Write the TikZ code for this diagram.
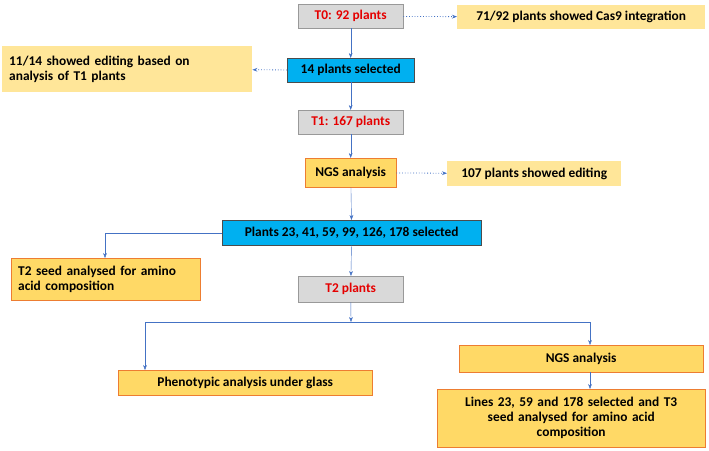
\documentclass[tikz,border=0pt]{standalone}
\usepackage{fontspec}
\setmainfont{Carlito}
\usetikzlibrary{arrows.meta}
\definecolor{gfill}{HTML}{D9D9D9}
\definecolor{lyel}{HTML}{FFE699}
\definecolor{oyel}{HTML}{FFD966}
\definecolor{obord}{HTML}{ED7D31}
\definecolor{bfill}{HTML}{00B0F0}
\definecolor{arr}{HTML}{4472C4}
\begin{document}
\begin{tikzpicture}[x=1pt,y=-1pt,font=\bfseries\fontsize{13.4}{15}\selectfont,
 box/.style={draw,minimum height=24pt,inner sep=2pt,anchor=north west},
 gray/.style={box,fill=gfill,draw=gray!80,text=red!90!black,minimum width=105pt},
 note/.style={box,fill=lyel,draw=none,align=left},
 blue/.style={box,fill=bfill,draw=black!70},
 org/.style={box,fill=oyel,draw=obord,align=left},
 ar/.style={draw=arr,-{Stealth[length=5pt]}},
 dt/.style={ar,dotted,thick}]
\useasboundingbox (0,0) rectangle (709,450);
\node[gray] (t0) at (298,4) {T0: 92 plants};
\node[note,minimum width=248pt] (n1) at (457,5) {71/92 plants showed Cas9 integration};
\node[blue,minimum width=127pt] (s14) at (287,58) {14 plants selected};
\node[note,minimum width=250pt,minimum height=46pt,text width=236pt,inner xsep=7pt] (n2) at (2,46) {11/14 showed editing based on\\analysis of T1 plants};
\node[gray] (t1) at (298,110) {T1: 167 plants};
\node[org,minimum width=91pt,minimum height=29pt,align=center] (ngs) at (305,158) {NGS analysis};
\node[note,minimum width=174pt,minimum height=25pt] (n3) at (447,161) {107 plants showed editing};
\node[blue,minimum width=259pt,minimum height=25pt] (pl) at (222,220) {Plants 23, 41, 59, 99, 126, 178 selected};
\node[org,minimum width=189pt,minimum height=42pt,text width=175pt,inner xsep=7pt] (sd) at (11,258) {T2 seed analysed for amino\\acid composition};
\node[gray,text=red!90!black,minimum height=26pt] (t2) at (298,276) {T2 plants};
\node[org,minimum width=244pt,minimum height=27pt,align=center] (ngs2) at (459,345) {NGS analysis};
\node[org,minimum width=254pt,minimum height=25pt] (ph) at (118,370) {Phenotypic analysis under glass};
\node[org,minimum width=268pt,minimum height=58pt,text width=262pt,align=center] (ln) at (437,389) {Lines 23, 59 and 178 selected and T3\\seed analysed for amino acid\\composition};
\coordinate (j) at (351,322);
\draw[dt] (t0) -- (n1);
\draw[dt] (s14) -- (n2);
\draw[dt] (ngs) -- (n3);
\draw[ar] (t0) -- (s14);
\draw[ar] (s14) -- (t1);
\draw[ar] (t1) -- (ngs);
\draw[ar] (ngs) -- (pl);
\draw[ar] (pl) -- (t2);
\draw[ar] (pl.west) -| (sd.north -| 105,0);
\draw[ar] (t2) -- (j);
\draw[arr] (145,322) -- (590,322);
\draw[ar] (145,322) -- (ph.north -| 145,0);
\draw[ar] (590,322) -- (ngs2.north -| 590,0);
\draw[ar] (ngs2.south -| 590,0) -- (ln.north -| 590,0);
\end{tikzpicture}
\end{document}
